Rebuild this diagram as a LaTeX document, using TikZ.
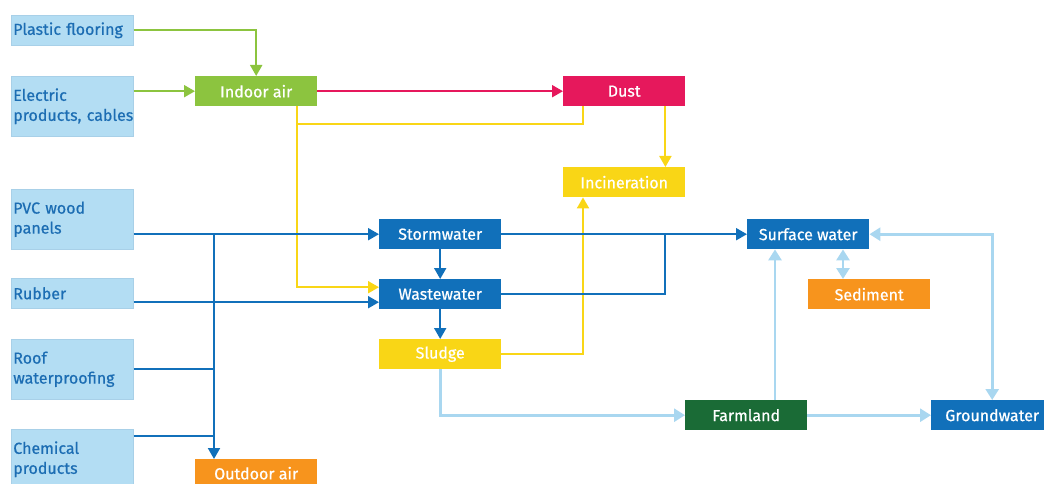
\documentclass[tikz,border=0pt]{standalone}
\usepackage{fontspec}
\setmainfont{Fira Sans}
\newfontfamily\labfont{Fira Sans}[FakeBold=0.6]
\usetikzlibrary{arrows.meta}
\definecolor{srcfill}{HTML}{B3DDF3}
\definecolor{srcedge}{HTML}{A8D0E8}
\definecolor{srctext}{HTML}{1C6DB3}
\definecolor{cgreen}{HTML}{8CC43F}
\definecolor{cred}{HTML}{E6185C}
\definecolor{cyellow}{HTML}{F9D616}
\definecolor{cblue}{HTML}{1170BA}
\definecolor{corange}{HTML}{F7941D}
\definecolor{cfarm}{HTML}{1A6B36}
\definecolor{clight}{HTML}{A9D7F0}
\tikzset{
  box/.style={anchor=north west, minimum width=122pt, minimum height=30pt,
    inner sep=0pt, font=\labfont\fontsize{16}{19}\selectfont, text=white},
  src/.style={box, fill=srcfill, draw=srcedge, line width=0.6pt, text=srctext,
    align=left, text width=118pt, inner xsep=2pt,
    font=\labfont\fontsize{16}{20}\selectfont},
  tip/.style={-{Triangle[length=11pt,width=12pt]}},
  wire/.style={line width=2pt},
  flow/.style={wire, tip},
  pale/.style={line width=2.8pt, draw=clight},
  paletip/.style={pale, -{Triangle[length=11pt,width=13pt]}},
}
\begin{document}
\begin{tikzpicture}[x=1pt,y=-1pt]
\useasboundingbox (0,0) rectangle (1044,484);

% sources
\node[src] (pf) at (11,15) {Plastic flooring};
\node[src, minimum height=60pt] (ep) at (11,76) {Electric\\\mbox{products, cables}};
\node[src, minimum height=60pt] (pvc) at (11,189) {PVC wood\\panels};
\node[src] (rub) at (11,278) {Rubber};
\node[src, minimum height=60pt] (roof) at (11,339) {Roof\\waterproofing};
\node[src, minimum height=60pt] (chem) at (11,429) {Chemical\\products};

% compartments
\node[box, fill=cgreen] (ia) at (195,76) {Indoor air};
\node[box, fill=cred] (dust) at (563,76) {Dust};
\node[box, fill=cyellow] (inc) at (563,167) {Incineration};
\node[box, fill=cblue] (sw) at (379,219) {Stormwater};
\node[box, fill=cblue] (ww) at (379,279) {Wastewater};
\node[box, fill=cyellow] (sl) at (379,339) {Sludge};
\node[box, fill=cblue] (sf) at (747,219) {Surface water};
\node[box, fill=corange] (sed) at (808,279) {Sediment};
\node[box, fill=cfarm] (fa) at (685,400) {Farmland};
\node[box, fill=cblue] (gw) at (931,400) {Groundwater};
\node[box, fill=corange, minimum height=28pt] (oa) at (195,459) {Outdoor air};

% indoor air
\draw[flow, cgreen] (pf.east) -| (ia.north);
\draw[flow, cgreen] (ia.west -| ep.east) -- (ia.west);
\draw[flow, cred] (ia.east) -- (dust.west);

% yellow routes
\coordinate (ydrop) at ([xshift=-20pt]ia.south east);
\coordinate (yjoin) at ([yshift=-18pt]ydrop);
\draw[flow, cyellow] (ydrop) |- ([yshift=7pt]ww.west);
\draw[wire, cyellow] ([xshift=20pt]dust.south west) |- (yjoin);
\draw[flow, cyellow] ([xshift=-20pt]dust.south east) -- ([xshift=-20pt]inc.north east);
\draw[flow, cyellow] (sl.east) -| ([xshift=20pt]inc.south west);

% blue routes
\coordinate (bsplit) at ([xshift=19pt]oa.north west |- sw.west);
\draw[flow, cblue] (sw.west -| pvc.east) -- (sw.west);
\draw[flow, cblue] (bsplit) -- ([xshift=19pt]oa.north west);
\draw[wire, cblue] (roof.east) -- (roof.east -| bsplit);
\draw[wire, cblue] ([yshift=-7pt]chem.north east) -- ([yshift=-7pt]chem.north east -| bsplit);
\draw[flow, cblue] ([yshift=-8pt]ww.west -| rub.east) -- ([yshift=-8pt]ww.west);
\draw[flow, cblue] (sw.south) -- (ww.north);
\draw[flow, cblue] (ww.south) -- (sl.north);
\draw[flow, cblue] (sw.east) -- (sf.west);
\coordinate (wjoin) at ([xshift=-20pt]inc.south east |- sw.east);
\draw[wire, cblue] (ww.east) -| (wjoin);

% pale routes
\draw[paletip] (sl.south) |- (fa.west);
\draw[paletip] ([xshift=28pt]sf.south west |- fa.north) -- ([xshift=28pt]sf.south west);
\draw[pale, {Triangle[length=11pt,width=13pt]}-{Triangle[length=11pt,width=13pt]}]
  ([xshift=35pt]sed.north west |- sf.south) -- ([xshift=35pt]sed.north west);
\draw[pale, {Triangle[length=11pt,width=13pt]}-{Triangle[length=11pt,width=13pt]}]
  (sf.east) -| (gw.north);
\draw[paletip] (fa.east) -- (gw.west);
\end{tikzpicture}
\end{document}
